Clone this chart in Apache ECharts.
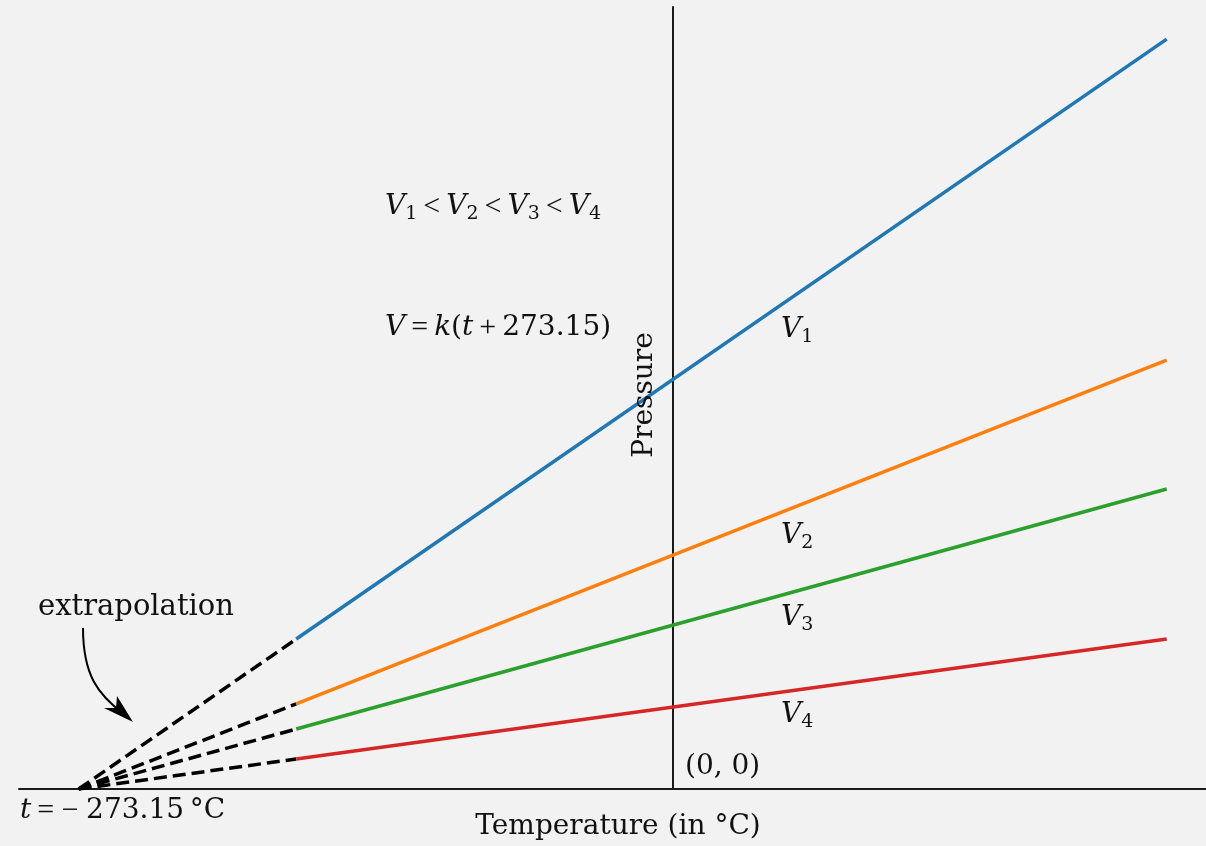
<!DOCTYPE html>
<html>
<head>
<meta charset="utf-8">
<script src="https://cdn.jsdelivr.net/npm/echarts@6/dist/echarts.min.js"></script>
<style>
html,body{margin:0;padding:0;background:#f2f2f2;}
#main{width:1206px;height:846px;}
</style>
</head>
<body>
<div id="main"></div>
<script>
// Temperatures (°C): absolute zero, start of measured range, end of measured range
const temps = [-273.15, -173.15, 226.85];
// Pressure (arbitrary units) at those temperatures for each volume
const pressureV1 = [0, 500, 2500];
const pressureV2 = [0, 284, 1430];
const pressureV3 = [0, 200, 1000];
const pressureV4 = [0, 100, 500];
const seriesNames = ['V1', 'V2', 'V3', 'V4'];
const seriesColors = ['#1f77b4', '#ff7f0e', '#2ca02c', '#d62728'];
const allPressures = [pressureV1, pressureV2, pressureV3, pressureV4];

const FONT = '"DejaVu Serif", serif';
const OPFONT = '"Liberation Serif", serif';
const INK = '#111';
const chart = echarts.init(document.getElementById('main'), null, {renderer: 'canvas'});

const series = [];
allPressures.forEach((p, i) => {
  series.push({
    name: seriesNames[i] + ' extrapolated',
    type: 'line',
    data: [[temps[0], p[0]], [temps[1], p[1]]],
    showSymbol: false,
    lineStyle: {color: '#000', width: 3.5, type: [13, 6], cap: 'butt'},
    silent: true,
    z: 3
  });
  series.push({
    name: seriesNames[i],
    type: 'line',
    data: [[temps[1], p[1]], [temps[2], p[2]]],
    showSymbol: false,
    lineStyle: {color: seriesColors[i], width: 3.5},
    silent: true,
    z: 4
  });
});

const mathRich = {
  v: {fontFamily: FONT, fontStyle: 'italic', fontSize: 28, lineHeight: 34, fill: INK},
  n: {fontFamily: FONT, fontSize: 28, lineHeight: 34, fill: INK},
  o: {fontFamily: OPFONT, fontSize: 30, lineHeight: 34, fill: INK},
  s: {fontFamily: FONT, fontSize: 19, lineHeight: 19, verticalAlign: 'bottom', fill: INK}
};

function mathText(x, y, text, align) {
  return {
    type: 'text', x: x, y: y, z: 10,
    style: {text: text, rich: mathRich, align: align || 'left', verticalAlign: 'middle', fill: INK}
  };
}
function plainText(x, y, text, align) {
  return {
    type: 'text', x: x, y: y, z: 10,
    style: {text: text, font: '28px ' + FONT, fill: INK, align: align || 'left', verticalAlign: 'middle'}
  };
}

const TS = '\u2009';
const option = {
  backgroundColor: '#f2f2f2',
  animation: false,
  grid: {left: 19, right: 0, top: 7, bottom: 57},
  xAxis: {
    type: 'value', min: -300.55, max: 244.9,
    axisLine: {show: true, onZero: true, lineStyle: {color: '#1a1a1a', width: 2}},
    axisTick: {show: false}, axisLabel: {show: false}, splitLine: {show: false}
  },
  yAxis: {
    type: 'value', min: 0, max: 2607,
    axisLine: {show: true, onZero: true, lineStyle: {color: '#1a1a1a', width: 2}},
    axisTick: {show: false}, axisLabel: {show: false}, splitLine: {show: false}
  },
  series: series,
  graphic: [
    mathText(385, 207, '{v|V}{s|1}{o|' + TS + '<' + TS + '}{v|V}{s|2}{o|' + TS + '<' + TS + '}{v|V}{s|3}{o|' + TS + '<' + TS + '}{v|V}{s|4}'),
    mathText(385, 328, '{v|V}{o|' + TS + '=' + TS + '}{v|k}{n|(}{v|t}{o|' + TS + '+' + TS + '}{n|273.15)}'),
    mathText(781, 330, '{v|V}{s|1}'),
    mathText(781, 536, '{v|V}{s|2}'),
    mathText(781, 618, '{v|V}{s|3}'),
    mathText(781, 715, '{v|V}{s|4}'),
    plainText(685, 767, '(0, 0)'),
    mathText(20, 811, '{v|t}{o|' + TS + '= − }{n|273.15' + TS + '°C}'),
    plainText(618, 827, 'Temperature (in °C)', 'center'),
    {
      type: 'text', x: 645, y: 395, rotation: Math.PI / 2, z: 10,
      style: {text: 'Pressure', font: '28px ' + FONT, fill: INK, align: 'center', verticalAlign: 'middle'}
    },
    {
      type: 'text', x: 38, y: 607, z: 10,
      style: {text: 'extrapolation', font: '29px ' + FONT, fill: INK, align: 'left', verticalAlign: 'middle'}
    },
    {
      type: 'bezierCurve', z: 10,
      shape: {x1: 83, y1: 628, cpx1: 83, cpy1: 675, cpx2: 98, cpy2: 695, x2: 124, y2: 714},
      style: {stroke: '#000', lineWidth: 2, fill: null}
    },
    {
      type: 'polygon', z: 10,
      shape: {points: [[133, 722], [104, 708], [116, 708], [117, 696]]},
      style: {fill: '#000'}
    }
  ]
};
chart.setOption(option);
</script>
</body>
</html>
